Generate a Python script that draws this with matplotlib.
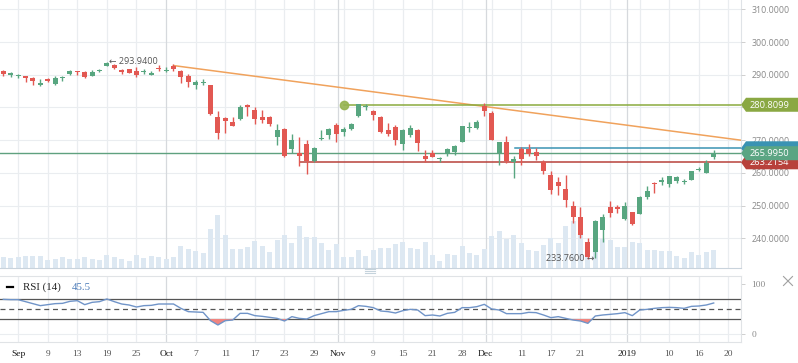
import matplotlib
matplotlib.use("Agg")
import matplotlib.pyplot as plt
import numpy as np
from matplotlib.lines import Line2D
from matplotlib.patches import Polygon
from matplotlib.transforms import IdentityTransform

# ---------------- data ----------------
opens = [291.14, 290.03, 289.62, 289.51, 289.10, 286.87, 288.80, 287.27, 288.90, 290.33,
         291.14, 290.84, 289.72, 291.04, 292.67, 293.08, 291.35, 291.65, 291.04, 290.84,
         290.02, 291.96, 291.14, 292.67, 291.24, 289.61, 286.96, 287.47, 286.86, 277.08,
         276.88, 275.55, 276.47, 280.65, 279.22, 277.08, 277.08, 271.07, 273.41, 267.30,
         265.98, 268.83, 263.63, 270.46, 271.58, 274.53, 272.60, 273.41, 277.39, 280.24,
         278.92, 277.08, 273.11, 274.02, 268.83, 271.58, 273.11, 265.16, 265.98, 264.10,
         265.77, 266.48, 269.54, 273.82, 273.82, 280.44, 278.30, 265.98, 269.44, 263.32,
         267.30, 267.30, 266.38, 263.22, 259.35, 257.31, 255.07, 249.87, 246.61, 238.76,
         235.92, 242.54, 249.47, 249.47, 245.90, 247.94, 247.43, 252.73, 256.80, 257.31,
         256.49, 257.62, 257.21, 257.82, 260.77, 260.06, 264.96]
highs = [291.45, 290.94, 290.33, 289.61, 289.31, 288.60, 288.90, 289.61, 289.71, 291.35,
         291.24, 291.04, 291.45, 291.75, 293.94, 293.38, 291.65, 291.75, 292.36, 291.86,
         291.24, 292.98, 292.26, 293.28, 291.45, 290.22, 288.39, 288.70, 286.96, 278.92,
         277.00, 277.08, 280.75, 281.06, 280.14, 279.22, 277.39, 274.94, 273.72, 271.88,
         271.07, 270.05, 268.01, 273.11, 273.82, 275.35, 274.13, 275.25, 281.00, 280.96,
         279.22, 277.39, 275.14, 274.63, 273.41, 274.63, 273.41, 266.99, 266.99, 264.96,
         267.61, 268.40, 274.40, 275.65, 276.17, 281.26, 278.92, 269.50, 271.27, 265.16,
         268.01, 268.83, 267.50, 263.93, 260.57, 258.84, 259.35, 251.41, 249.67, 239.98,
         245.59, 247.43, 251.51, 250.29, 251.20, 248.14, 252.93, 255.99, 257.31, 258.84,
         259.10, 259.04, 258.13, 260.57, 261.88, 263.93, 266.99]
lows = [289.72, 289.41, 289.11, 287.88, 286.96, 286.66, 287.88, 286.96, 288.09, 290.03,
        290.03, 289.00, 289.51, 290.73, 292.57, 291.65, 290.33, 290.50, 289.41, 290.12,
        289.90, 291.04, 290.84, 291.14, 287.58, 286.35, 285.54, 286.96, 277.70, 270.46,
        272.28, 274.20, 276.30, 277.39, 274.94, 275.35, 274.33, 268.52, 264.96, 265.98,
        262.21, 259.76, 263.40, 270.05, 270.46, 269.54, 271.38, 273.11, 277.18, 279.22,
        276.17, 272.09, 271.38, 268.52, 266.99, 271.07, 266.69, 263.32, 264.80, 263.32,
        265.16, 265.47, 269.40, 272.60, 273.51, 277.49, 270.00, 262.51, 262.92, 258.54,
        262.41, 265.16, 263.93, 259.66, 253.54, 253.24, 249.47, 244.78, 239.98, 233.76,
        233.90, 238.97, 246.61, 247.63, 245.70, 244.07, 247.30, 251.91, 253.95, 256.29,
        255.58, 257.00, 256.49, 257.70, 260.67, 259.96, 264.14]
closes = [290.33, 290.43, 290.03, 289.10, 288.19, 287.58, 288.09, 289.00, 289.20, 291.04,
          290.84, 289.41, 290.84, 291.35, 293.69, 292.06, 290.94, 290.63, 289.82, 291.14,
          290.63, 291.65, 291.45, 291.75, 289.41, 287.88, 287.88, 287.78, 278.00, 272.28,
          275.96, 274.33, 280.04, 280.24, 276.58, 276.17, 274.94, 273.11, 265.26, 270.05,
          265.16, 263.63, 267.61, 270.77, 273.41, 271.88, 273.41, 274.94, 280.96, 280.55,
          277.69, 272.60, 271.88, 270.05, 273.11, 273.72, 269.03, 264.24, 264.96, 264.20,
          267.30, 268.32, 274.33, 274.13, 275.55, 279.02, 270.15, 269.44, 263.63, 264.24,
          264.24, 265.77, 265.16, 260.67, 254.77, 256.09, 251.71, 246.41, 241.00, 234.18,
          245.39, 246.51, 247.63, 248.86, 249.88, 244.27, 252.73, 254.47, 256.49, 257.72,
          259.04, 258.84, 257.52, 260.47, 261.08, 263.12, 265.995]
volumes_m = [59, 54, 59, 64, 64, 64, 44, 49, 59, 49, 49, 59, 49, 44, 70, 59, 49, 38, 70, 54,
             64, 59, 49, 59, 117, 101, 90, 80, 205, 278, 174, 101, 101, 111, 143, 117, 85, 148, 174, 132,
             221, 164, 164, 132, 96, 127, 59, 59, 96, 64, 96, 106, 106, 127, 137, 106, 101, 137, 70, 38,
             75, 70, 117, 80, 70, 101, 169, 195, 153, 174, 132, 96, 90, 122, 158, 132, 221, 247, 252, 134,
             191, 151, 148, 111, 111, 137, 132, 96, 96, 90, 90, 64, 54, 85, 70, 85, 96]
rsi = [69.3, 68.7, 68.7, 64.7, 60.7, 56.7, 58.7, 60.7, 61.3, 65.3,
       66.7, 58.7, 63.3, 64.7, 70.0, 64.7, 60.0, 58.0, 54.0, 56.7,
       57.3, 60.0, 60.0, 60.0, 51.3, 44.7, 44.0, 43.3, 26.7, 18.0,
       26.7, 28.0, 41.3, 41.3, 36.7, 35.3, 33.3, 31.3, 26.0, 34.7,
       31.3, 30.0, 36.7, 40.7, 44.7, 44.7, 47.3, 49.3, 56.7, 55.3,
       52.7, 46.0, 44.7, 42.0, 46.7, 49.3, 48.0, 36.7, 38.0, 36.0,
       41.3, 43.3, 52.7, 52.7, 54.7, 59.3, 50.0, 48.0, 40.7, 40.7,
       40.7, 43.3, 42.7, 38.0, 32.7, 34.7, 31.3, 28.0, 26.0, 21.3,
       36.0, 38.0, 39.3, 40.7, 42.7, 36.7, 48.0, 49.3, 51.3, 52.7,
       53.3, 52.7, 51.3, 55.3, 56.0, 58.0, 62.0]

tick_pos = [2, 6, 10, 14, 18, 22, 26, 30, 34, 38, 42, 45.2, 50, 54, 58, 62, 65.2,
            70, 74, 78, 84.25, 90, 94, 98]
tick_labels = ["Sep", "9", "13", "19", "25", "Oct", "7", "11", "17", "23", "29", "Nov",
               "9", "15", "21", "28", "Dec", "11", "17", "21", "2019", "10", "16", "20"]
month_labels = ["Sep", "Oct", "Nov", "Dec", "2019"]
unlabeled_grid = [46, 66, 82, 86]
price_ticks = [240, 250, 260, 270, 280, 290, 300, 310]
hidden_price_labels = [280]   # covered by the 280.8099 tag in the reference

high_idx, high_val = 14, 293.94
low_idx, low_val = 79, 233.76
trend_pts = [(23, 292.8), (65, 280.3)]
resist_start, resist_val = 46, 280.8099
blue_start, blue_val = 69.1, 267.5
support_start, support_val = 40.1, 263.2154
last_val = 265.995
rsi_label = "45.5"

# ---------------- layout ----------------
W, H = 798, 363
fig = plt.figure(figsize=(W / 100, H / 100), dpi=100)
fig.patch.set_facecolor("white")


def rect(x0, y0, x1, y1):
    return [x0 / W, 1 - y1 / H, (x1 - x0) / W, (y1 - y0) / H]


UP = "#58a680"
DN = "#e25852"
GRID = "#eaedf0"
MGRID = "#d6d9dd"
SANS = ["Open Sans", "DejaVu Sans"]
SERIF = ["Liberation Serif", "DejaVu Serif"]

n = len(closes)
x = np.arange(n)
XMIN, XMAX = -0.446, 99.69

axv = fig.add_axes(rect(0, 0, 741, 268))
ax = fig.add_axes(rect(0, 0, 741, 268), sharex=axv)
ax.set_zorder(2)
ax.patch.set_visible(False)
axr = fig.add_axes(rect(0, 275.5, 741, 342))

for a in (axv, ax, axr):
    a.set_xlim(XMIN, XMAX)

# volume axes (background, gridlines)
axv.set_ylim(0, 1400)
price_lo, price_hi = 230.89, 312.85
for p in price_ticks:
    y_frac = (p - price_lo) / (price_hi - price_lo)
    axv.axhline(y_frac * 1400, color=GRID, lw=0.8, zorder=0)
grid_all = sorted(set(tick_pos) | set(unlabeled_grid))
for gp in grid_all:
    lab = tick_labels[tick_pos.index(gp)] if gp in tick_pos else ""
    col = MGRID if lab in month_labels and lab != "Sep" else GRID
    axv.axvline(gp, color=col, lw=0.9, zorder=0)
    axr.axvline(gp, color=col, lw=0.9, zorder=0)
axv.bar(x, volumes_m, width=0.68, color="#dde8f2", zorder=1)
axv.set_yticks([])
axv.tick_params(axis="x", which="both", length=0, labelbottom=False)
for s in ["top", "left"]:
    axv.spines[s].set_visible(False)
axv.spines["right"].set_color("#dfe3e7")
axv.spines["bottom"].set_color("#c9d3dc")
for s in axv.spines.values():
    s.set_linewidth(0.8)

# price axes
ax.set_ylim(price_lo, price_hi)
for s in ax.spines.values():
    s.set_visible(False)
ax.yaxis.tick_right()
ax.set_yticks(price_ticks)
ax.set_yticklabels(["" if p in hidden_price_labels else f"{p:.4f}" for p in price_ticks],
                   family=SANS, fontsize=6.4, color="#8a8a8a")
ax.tick_params(axis="y", length=3, width=0.6, color="#c8c8c8", pad=4.3)
ax.tick_params(axis="x", length=0, labelbottom=False)

# level lines
ax.axhline(last_val, color="#5fa17f", lw=1.0, zorder=2)
x_end = XMAX
(tx0, ty0), (tx1, ty1) = trend_pts
slope = (ty1 - ty0) / (tx1 - tx0)
ax.plot([tx0, x_end], [ty0, ty0 + slope * (x_end - tx0)], color="#f0a25c", lw=1.1, zorder=2)
ax.plot([resist_start, x_end], [resist_val, resist_val], color="#8aab3e", lw=1.1, zorder=2)
ax.plot([resist_start], [resist_val], "o", color="#96b350", ms=6, alpha=0.9, zorder=4)
ax.plot([blue_start, x_end], [blue_val, blue_val], color="#3a93b3", lw=1.1, zorder=2)
ax.plot([support_start, x_end], [support_val, support_val], color="#b8413b", lw=1.1, zorder=2)

# candles
o = np.array(opens); c = np.array(closes); hi = np.array(highs); lo = np.array(lows)
cols = [UP if cc >= oo else DN for oo, cc in zip(o, c)]
ax.vlines(x, lo, hi, colors=cols, lw=1.0, zorder=3)
body_lo = np.minimum(o, c)
body_h = np.maximum(np.abs(c - o), 0.3)
ax.bar(x, body_h, bottom=body_lo, width=0.68, color=cols, zorder=3.5)

# high/low annotations
ax.text(high_idx + 0.3, high_val, "\u2190 293.9400", ha="left", va="center",
        family=SANS, fontsize=6.5, color="#555555", zorder=5)
ax.text(low_idx + 0.85, low_val, "233.7600 \u2192", ha="right", va="center",
        family=SANS, fontsize=6.5, color="#555555", zorder=5)

# right-hand price tags


def tag(price, color, text, z):
    yc = ax.transData.transform((0, price))[1]
    x0 = ax.transAxes.transform((1, 0))[0]
    h = 14
    pts = [(x0, yc), (x0 + 5, yc + h / 2), (W + 2, yc + h / 2), (W + 2, yc - h / 2), (x0 + 5, yc - h / 2)]
    poly = Polygon(pts, closed=True, transform=IdentityTransform(), fc=color, ec="none", zorder=z)
    fig.add_artist(poly)
    if text:
        fig.text((x0 + 9) / W, (yc - 0.5) / H, text, ha="left", va="center", color="white",
                 family=SANS, fontsize=6.7, zorder=z + 0.1)


tag(resist_val, "#8aa843", f"{resist_val:.4f}", 10)
tag(blue_val, "#3a93b3", "", 11)          # its text is hidden under the green tag
tag(support_val, "#b8413b", f"{support_val:.4f}", 12)
tag(last_val, "#5ba583", f"{last_val:.4f}", 13)

# ---------------- RSI panel ----------------
axr.set_ylim(-16, 117)
r = np.array(rsi)
axr.axhline(0, color=GRID, lw=0.8, zorder=0)
axr.axhline(70, color="#555555", lw=0.9, zorder=1)
axr.axhline(30, color="#555555", lw=0.9, zorder=1)
axr.axhline(50, color="#555555", lw=0.9, ls=(0, (4, 3)), zorder=1)
axr.fill_between(x, r, 30, where=r < 30, interpolate=True, color="#f08580", lw=0, zorder=2)
axr.plot(x, r, color="#7094c8", lw=1.0, zorder=3)
axr.spines["left"].set_visible(False)
for s in ["top", "bottom", "right"]:
    axr.spines[s].set_color("#e0e3e6")
    axr.spines[s].set_linewidth(0.8)
axr.yaxis.tick_right()
axr.set_yticks([0, 100])
axr.set_yticklabels(["0", "100"], family=SERIF, fontsize=6.8, color="#8a8a8a")
axr.tick_params(axis="y", length=3, width=0.6, color="#c8c8c8", pad=4.3)
axr.set_xticks(tick_pos)
axr.set_xticklabels(tick_labels, family=SERIF, fontsize=6.8)
for lbl in axr.get_xticklabels():
    lbl.set_color("#1a1a1a" if lbl.get_text() in month_labels else "#555555")
axr.tick_params(axis="x", length=0, pad=6)

# RSI legend
fig.add_artist(Line2D([7 / W, 13 / W], [1 - 286.5 / H, 1 - 286.5 / H], color="black", lw=1.6))
fig.text(23 / W, 1 - 287 / H, "RSI (14)", family=SERIF, fontsize=7.8, color="#222222", va="center")
fig.text(71.5 / W, 1 - 287 / H, rsi_label, family=SERIF, fontsize=7.8, color="#4a7ab8", va="center")

# close cross and resize handle
for (xa, ya, xb, yb) in [(783.5, 276.5, 792.5, 285.5), (783.5, 285.5, 792.5, 276.5)]:
    fig.add_artist(Line2D([xa / W, xb / W], [1 - ya / H, 1 - yb / H], color="#a0a0a0", lw=0.8))
for yy in (269, 271, 273):
    fig.add_artist(Line2D([365 / W, 375 / W], [1 - yy / H, 1 - yy / H], color="#c5d3dc", lw=0.8))

fig.savefig("out.png", dpi=100, facecolor="white")
